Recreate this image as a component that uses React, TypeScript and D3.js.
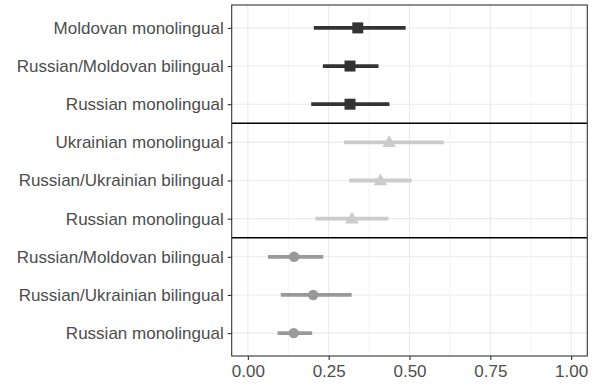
import { useEffect, useRef } from 'react';
import * as d3 from 'd3';

// rows from top to bottom
const rowLabels = [
  'Moldovan monolingual',
  'Russian/Moldovan bilingual',
  'Russian monolingual',
  'Ukrainian monolingual',
  'Russian/Ukrainian bilingual',
  'Russian monolingual',
  'Russian/Moldovan bilingual',
  'Russian/Ukrainian bilingual',
  'Russian monolingual',
];
const rowGroup = [0, 0, 0, 1, 1, 1, 2, 2, 2];
const estimates = [0.34, 0.316, 0.316, 0.437, 0.41, 0.322, 0.143, 0.202, 0.142];
const lowers = [0.204, 0.232, 0.196, 0.297, 0.313, 0.209, 0.062, 0.102, 0.092];
const uppers = [0.488, 0.404, 0.438, 0.606, 0.507, 0.435, 0.233, 0.321, 0.199];

const groupColors = ['#333333', '#cccccc', '#999999'];
const groupShapes = [d3.symbolSquare, d3.symbolTriangle, d3.symbolCircle];
const groupSizes = [121, 80, 85];

const xTicks = [0, 0.25, 0.5, 0.75, 1];
const xMinor = [0.125, 0.375, 0.625, 0.875];
const separatorsAfter = [2, 5];

const W = 603;
const H = 385;

export default function App() {
  const ref = useRef<SVGSVGElement>(null);

  useEffect(() => {
    if (!ref.current) return;
    const svg = d3.select(ref.current);
    svg.selectAll('*').remove();

    const panel = { left: 231.7, right: 587.3, top: 5, bottom: 356 };
    const font = '"Liberation Sans", Arial, sans-serif';

    const x = d3.scaleLinear().domain([-0.05, 1.05]).range([panel.left, panel.right]);
    const idx = rowLabels.map((_, i) => i);
    const y = d3.scalePoint<number>().domain(idx).range([panel.top, panel.bottom]).padding(0.6);

    svg.append('rect').attr('width', W).attr('height', H).attr('fill', '#ffffff');

    const g = svg.append('g');

    // minor grid
    g.selectAll('line.minor')
      .data(xMinor)
      .join('line')
      .attr('x1', d => x(d)).attr('x2', d => x(d))
      .attr('y1', panel.top).attr('y2', panel.bottom)
      .attr('stroke', '#ebebeb').attr('stroke-width', 0.55);

    // major grid
    g.selectAll('line.majx')
      .data(xTicks)
      .join('line')
      .attr('x1', d => x(d)).attr('x2', d => x(d))
      .attr('y1', panel.top).attr('y2', panel.bottom)
      .attr('stroke', '#ebebeb').attr('stroke-width', 1.1);
    g.selectAll('line.majy')
      .data(idx)
      .join('line')
      .attr('x1', panel.left).attr('x2', panel.right)
      .attr('y1', d => y(d)!).attr('y2', d => y(d)!)
      .attr('stroke', '#ebebeb').attr('stroke-width', 1.1);

    // separators between groups
    const step = y.step();
    g.selectAll('line.sep')
      .data(separatorsAfter)
      .join('line')
      .attr('x1', panel.left).attr('x2', panel.right)
      .attr('y1', d => y(d)! + step / 2).attr('y2', d => y(d)! + step / 2)
      .attr('stroke', '#000000').attr('stroke-width', 1.4);

    // intervals
    g.selectAll('line.ci')
      .data(idx)
      .join('line')
      .attr('x1', d => x(lowers[d])).attr('x2', d => x(uppers[d]))
      .attr('y1', d => y(d)!).attr('y2', d => y(d)!)
      .attr('stroke', d => groupColors[rowGroup[d]])
      .attr('stroke-width', 3.8);

    // points
    g.selectAll('path.pt')
      .data(idx)
      .join('path')
      .attr('transform', d => `translate(${x(estimates[d])},${y(d)! + (rowGroup[d] === 1 ? 0.8 : 0)})`)
      .attr('d', d => d3.symbol(groupShapes[rowGroup[d]], groupSizes[rowGroup[d]])()!)
      .attr('fill', d => groupColors[rowGroup[d]]);

    // panel border
    g.append('rect')
      .attr('x', panel.left).attr('y', panel.top)
      .attr('width', panel.right - panel.left).attr('height', panel.bottom - panel.top)
      .attr('fill', 'none').attr('stroke', '#333333').attr('stroke-width', 1.1);

    // y axis
    const yAxis = svg.append('g').attr('transform', `translate(${panel.left},0)`)
      .call(d3.axisLeft(y).tickSize(4).tickPadding(4).tickFormat(d => rowLabels[d as number]));
    yAxis.select('.domain').remove();
    yAxis.selectAll('line').attr('stroke', '#333333').attr('stroke-width', 1.1);
    yAxis.selectAll('text').attr('fill', '#4d4d4d').attr('font-size', '17px').attr('font-family', font);

    // x axis
    const xAxis = svg.append('g').attr('transform', `translate(0,${panel.bottom})`)
      .call(d3.axisBottom(x).tickValues(xTicks).tickSize(4).tickPadding(5).tickFormat(d3.format('.2f')));
    xAxis.select('.domain').remove();
    xAxis.selectAll('line').attr('stroke', '#333333').attr('stroke-width', 1.1);
    xAxis.selectAll('text').attr('fill', '#4d4d4d').attr('font-size', '17px').attr('font-family', font);
  }, []);

  return (
    <svg ref={ref} width={W} height={H} style={{ position: 'absolute', left: 0, top: 0 }} />
  );
}
